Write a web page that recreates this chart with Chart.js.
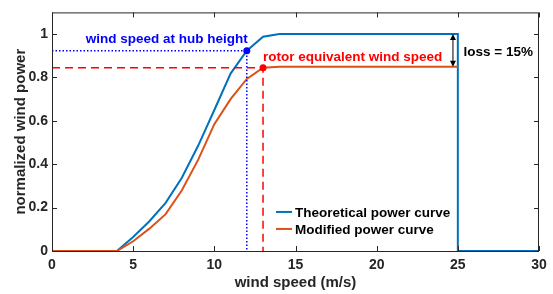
<!DOCTYPE html>
<html>
<head>
<meta charset="utf-8">
<script src="https://cdn.jsdelivr.net/npm/chart.js@4"></script>
<style>
  html, body { margin: 0; padding: 0; background: #fff; }
  #wrap { width: 553px; height: 294px; }
</style>
</head>
<body>
<div id="wrap"><canvas id="powerChart"></canvas></div>
<script>
// power curve data (wind speed in m/s, power normalized to rated)
const windSpeed   = [0, 4, 5, 6, 7, 8, 9, 10, 11, 12, 13, 14, 25, 25, 30];
const theoretical = [0, 0, 0.065, 0.137, 0.222, 0.338, 0.485, 0.65, 0.818, 0.923, 0.988, 1, 1, 0, 0];
const modified    = [0, 0, 0.045, 0.103, 0.17, 0.28, 0.42, 0.585, 0.7, 0.793, 0.845, 0.85, 0.85, null, null];

const hubPoint   = [12, 0.923];   // wind speed at hub height
const rotorPoint = [13, 0.845];   // rotor equivalent wind speed
const lossRange  = [24.7, 1, 0.85];

const xTicks = [0, 5, 10, 15, 20, 25, 30];
const yTicks = [0, 0.2, 0.4, 0.6, 0.8, 1];

const FONT = 'Liberation Sans, Arial, Helvetica, sans-serif';
const BLUE = '#0072BD';
const ORANGE = '#D95319';
const AXIS = '#262626';

const toXY = (xs, ys) => xs.map((x, i) => ({ x: x, y: ys[i] }));

// inward ticks, box, annotations and legend
const decorations = {
  id: 'decorations',
  afterDatasetsDraw(chart) {
    const { ctx, chartArea: a, scales: { x, y } } = chart;
    ctx.save();

    // box
    ctx.strokeStyle = AXIS;
    ctx.lineWidth = 1;
    ctx.strokeRect(a.left + 0.5, a.top + 0.5, a.right - a.left - 1, a.bottom - a.top);

    // inward ticks on all four sides
    ctx.beginPath();
    xTicks.forEach(v => {
      const px = Math.round(x.getPixelForValue(v)) + 0.5;
      ctx.moveTo(px, a.bottom); ctx.lineTo(px, a.bottom - 5);
      ctx.moveTo(px, a.top); ctx.lineTo(px, a.top + 5);
    });
    yTicks.forEach(v => {
      const py = Math.round(y.getPixelForValue(v)) + 0.5;
      ctx.moveTo(a.left, py); ctx.lineTo(a.left + 5, py);
      ctx.moveTo(a.right, py); ctx.lineTo(a.right - 5, py);
    });
    ctx.stroke();

    // labels
    ctx.font = 'bold 13.5px ' + FONT;
    ctx.textBaseline = 'middle';
    ctx.fillStyle = '#0000FF';
    ctx.textAlign = 'right';
    ctx.fillText('wind speed at hub height', x.getPixelForValue(hubPoint[0]) + 1, y.getPixelForValue(0.975));
    ctx.fillStyle = '#FF0000';
    ctx.textAlign = 'left';
    ctx.fillText('rotor equivalent wind speed', x.getPixelForValue(rotorPoint[0]), y.getPixelForValue(0.895));
    ctx.fillStyle = '#000';
    ctx.fillText('loss = 15%', x.getPixelForValue(25.35), y.getPixelForValue(0.918));

    // double arrow for loss
    const ax = x.getPixelForValue(lossRange[0]);
    const y1 = y.getPixelForValue(lossRange[1]);
    const y2 = y.getPixelForValue(lossRange[2]);
    ctx.strokeStyle = '#000';
    ctx.fillStyle = '#000';
    ctx.lineWidth = 1;
    ctx.beginPath();
    ctx.moveTo(ax, y1 + 2); ctx.lineTo(ax, y2 - 2);
    ctx.stroke();
    ctx.beginPath();
    ctx.moveTo(ax, y1); ctx.lineTo(ax - 3, y1 + 6); ctx.lineTo(ax + 3, y1 + 6); ctx.closePath();
    ctx.moveTo(ax, y2); ctx.lineTo(ax - 3, y2 - 6); ctx.lineTo(ax + 3, y2 - 6); ctx.closePath();
    ctx.fill();

    // legend inside plot
    const lx = x.getPixelForValue(13.8);
    const ly = y.getPixelForValue(0.18);
    ctx.font = 'bold 13.5px ' + FONT;
    ctx.textAlign = 'left';
    chart.data.datasets.slice(0, 2).forEach((ds, i) => {
      const yy = ly + i * 17;
      ctx.strokeStyle = ds.borderColor;
      ctx.lineWidth = 2;
      ctx.beginPath();
      ctx.moveTo(lx, yy); ctx.lineTo(lx + 16, yy);
      ctx.stroke();
      ctx.fillStyle = '#000';
      ctx.fillText(ds.label, lx + 19, yy + 1);
    });

    ctx.restore();
  }
};

new Chart(document.getElementById('powerChart'), {
  type: 'line',
  data: {
    datasets: [
      {
        label: 'Theoretical power curve',
        data: toXY(windSpeed, theoretical),
        borderColor: BLUE,
        borderWidth: 2,
        pointRadius: 0,
        order: 2
      },
      {
        label: 'Modified power curve',
        data: toXY(windSpeed, modified),
        borderColor: ORANGE,
        borderWidth: 2,
        pointRadius: 0,
        spanGaps: false,
        order: 1
      },
      {
        label: 'hub',
        data: [{ x: 0, y: hubPoint[1] }, { x: hubPoint[0], y: hubPoint[1] }, { x: hubPoint[0], y: 0 }],
        borderColor: '#0000FF',
        borderWidth: 1.5,
        borderDash: [1.5, 2],
        pointRadius: 0,
        order: 0
      },
      {
        label: 'rotor',
        data: [{ x: 0, y: rotorPoint[1] }, { x: rotorPoint[0], y: rotorPoint[1] }, { x: rotorPoint[0], y: 0 }],
        borderColor: '#FF0000',
        borderWidth: 1.5,
        borderDash: [8, 5],
        pointRadius: 0,
        order: 0
      },
      {
        label: 'markers',
        type: 'scatter',
        data: [{ x: hubPoint[0], y: hubPoint[1] }, { x: rotorPoint[0], y: rotorPoint[1] }],
        backgroundColor: ['#0000FF', '#FF0000'],
        borderWidth: 0,
        pointRadius: 3.5,
        order: -1
      }
    ]
  },
  options: {
    responsive: true,
    maintainAspectRatio: false,
    animation: false,
    layout: { padding: { top: 5, right: 14, left: 0, bottom: 0 } },
    plugins: {
      legend: { display: false },
      tooltip: { enabled: false }
    },
    scales: {
      x: {
        type: 'linear',
        min: 0,
        max: 30,
        afterFit: s => { s.height = 43; },
        afterBuildTicks: s => { s.ticks = xTicks.map(v => ({ value: v })); },
        grid: { display: false, drawTicks: false },
        border: { display: false },
        ticks: {
          padding: 6,
          color: AXIS,
          font: { family: FONT, size: 14, weight: 'bold' }
        },
        title: {
          display: true,
          text: 'wind speed (m/s)',
          color: AXIS,
          padding: { top: 0, bottom: 2 },
          font: { family: FONT, size: 15, weight: 'bold' }
        }
      },
      y: {
        min: 0,
        max: 1.1,
        afterFit: s => { s.width = 52; },
        afterBuildTicks: s => { s.ticks = yTicks.map(v => ({ value: v })); },
        grid: { display: false, drawTicks: false },
        border: { display: false },
        ticks: {
          padding: 4,
          color: AXIS,
          font: { family: FONT, size: 14, weight: 'bold' },
          callback: v => String(Math.round(v * 10) / 10)
        },
        title: {
          display: true,
          text: 'normalized wind power',
          color: AXIS,
          padding: { top: 12, bottom: 0 },
          font: { family: FONT, size: 15, weight: 'bold' }
        }
      }
    }
  },
  plugins: [decorations]
});
</script>
</body>
</html>
